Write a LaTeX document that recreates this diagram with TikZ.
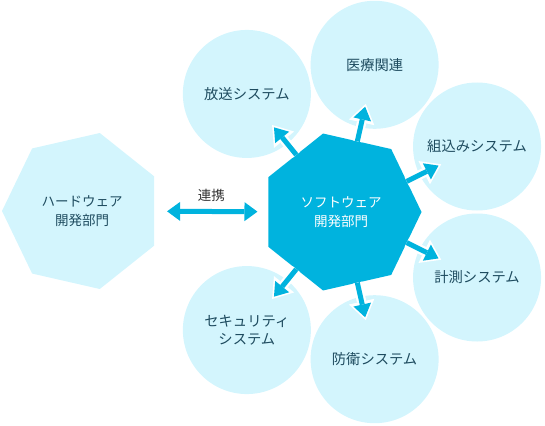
\documentclass[tikz,border=0pt]{standalone}
\usepackage{fontspec}
\setmainfont{Noto Sans CJK JP}
\usetikzlibrary{arrows.meta, positioning, calc, shapes.geometric}

\definecolor{paleblue}{RGB}{211,245,253}
\definecolor{deepblue}{RGB}{0,179,222}
\definecolor{darkteal}{RGB}{30,75,95}
\definecolor{labelgray}{RGB}{51,51,51}

\tikzset{
  dept/.style={regular polygon, regular polygon sides=7, minimum size=161pt,
    inner sep=0pt, outer sep=0pt, align=center,
    font=\fontsize{13.5}{19}\selectfont},
  field/.style={circle, fill=paleblue, minimum size=128pt, inner sep=0pt,
    outer sep=0pt, align=center, text=darkteal,
    font=\fontsize{14.3}{18}\selectfont},
  outarrow/.style={deepblue, line width=5pt,
    -{Triangle[width=18pt, length=13pt, line width=0pt]}, shorten >=43pt,
    preaction={draw=white, line width=9.5pt,
      -{Triangle[width=26pt, length=19pt, line width=0pt]}, shorten >=40pt}},
  linkarrow/.style={deepblue, line width=5pt,
    {Triangle[width=19pt, length=13pt, line width=0pt]}-{Triangle[width=19pt, length=13pt, line width=0pt]}}
}

\begin{document}
\begin{tikzpicture}[x=1pt, y=1pt]
  \useasboundingbox (0,0) rectangle (545,-425);

  % departments
  \node[dept, fill=paleblue, text=darkteal, minimum size=160pt,
    shape border rotate=90] (hw) at (82,-211) {ハードウェア\\開発部門};
  \node[dept, fill=deepblue, text=white,
    shape border rotate=-90] (sw) at (341,-212) {ソフトウェア\\開発部門};

  % fields around the software department
  \node[field] (broadcast) at ($(sw.center)+(128.57:151)$) {放送システム};
  \node[field] (medical)   at ($(sw.center)+(77.14:151)$)  {医療関連};
  \node[field] (embedded)  at ($(sw.center)+(25.71:151)$)  {組込みシステム};
  \node[field] (measure)   at ($(sw.center)+(-25.71:151)$) {計測システム};
  \node[field] (defense)   at ($(sw.center)+(-77.14:151)$) {防衛システム};
  \node[field] (security)  at ($(sw.center)+(-128.57:151)$) {セキュリティ\\システム};

  \draw[outarrow] (sw.128.57)  -- (broadcast.center);
  \draw[outarrow] (sw.77.14)   -- (medical.center);
  \draw[outarrow] (sw.25.71)   -- (embedded.center);
  \draw[outarrow] (sw.-25.71)  -- (measure.center);
  \draw[outarrow] (sw.-77.14)  -- (defense.center);
  \draw[outarrow] (sw.-128.57) -- (security.center);

  % cooperation
  \draw[linkarrow, shorten <=13pt, shorten >=11pt] (hw) -- (sw)
    node[midway, above=4pt, text=labelgray, font=\fontsize{13.5}{16}\selectfont] (link) {連携};
\end{tikzpicture}
\end{document}
